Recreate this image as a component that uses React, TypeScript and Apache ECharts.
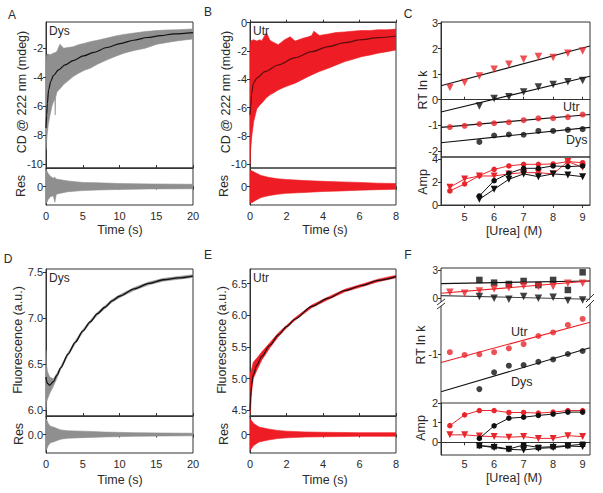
import React, { useEffect, useRef } from "react";
import * as echarts from "echarts";

// ---------- Data ----------
// Panel A (CD, Dys): noisy trace envelope + fit
const aT = [0, 0.05, 0.15, 0.3, 0.55, 0.8, 1.0, 1.2, 1.25, 1.3, 1.5, 1.9, 2.4, 3.0, 3.7, 4.5, 5.3, 6.0, 7.0, 8.3, 9.5, 10.6, 12.0, 13.5, 15.1, 16.5, 18.0, 20];
const aHi = [-3.0, -2.6, -2.4, -2.4, -2.45, -2.4, -2.35, -2.3, -2.3, -2.3, -2.2, -1.72, -2.0, -1.95, -1.9, -1.75, -1.65, -1.55, -1.45, -1.3, -1.15, -1.05, -0.95, -0.85, -0.78, -0.74, -0.72, -0.67];
const aLo = [-9.0, -8.6, -8.0, -7.3, -6.6, -6.0, -5.7, -5.5, -6.6, -5.4, -5.0, -4.8, -4.5, -4.25, -3.95, -3.7, -3.5, -3.38, -3.1, -2.8, -2.55, -2.34, -2.15, -2.0, -1.72, -1.6, -1.48, -1.36];
const aFitT = [0, 0.09, 0.18, 0.36, 0.64, 1.0, 1.7, 2.6, 3.7, 5.1, 6.5, 8.3, 10.1, 11.9, 13.8, 15.6, 17.4, 20];
const aFit = [-7.5, -6.6, -5.8, -4.87, -4.3, -3.89, -3.49, -3.15, -2.85, -2.53, -2.28, -1.95, -1.68, -1.45, -1.26, -1.13, -1.01, -0.92];
const aResT = [0, 0.1, 0.3, 0.6, 1.0, 1.2, 1.4, 2, 3, 5, 7, 10, 14, 20];
const aResHi = [0.92, 0.85, 0.7, 0.55, 0.45, 0.5, 0.4, 0.36, 0.3, 0.22, 0.2, 0.16, 0.14, 0.12];
const aResLo = [-0.9, -0.88, -0.7, -0.55, -0.5, -0.85, -0.42, -0.36, -0.28, -0.22, -0.19, -0.16, -0.13, -0.12];

// Panel B (CD, Utr)
const bT = [0, 0.04, 0.1, 0.2, 0.37, 0.55, 0.64, 0.9, 1.1, 1.3, 1.55, 1.9, 2.2, 2.47, 2.9, 3.2, 3.38, 3.5, 3.8, 4.29, 4.7, 5.2, 5.6, 6.1, 6.6, 7.0, 7.5, 8];
const bHi = [-1.8, -1.3, -1.25, -1.2, -1.3, -1.2, -1.3, -0.7, -1.25, -1.4, -1.55, -1.2, -1.0, -1.3, -1.1, -1.0, -0.9, -0.6, -0.9, -0.8, -0.7, -0.65, -0.6, -0.55, -0.55, -0.5, -0.5, -0.45];
const bLo = [-10.0, -8.9, -8.0, -7.0, -6.1, -5.8, -5.7, -5.3, -5.1, -4.95, -4.75, -4.55, -4.4, -4.28, -4.0, -3.8, -3.69, -3.62, -3.45, -3.22, -3.0, -2.75, -2.6, -2.4, -2.28, -2.16, -2.05, -1.93];
const bFitT = [0, 0.04, 0.09, 0.18, 0.37, 0.82, 1.55, 2.47, 3.38, 4.29, 5.2, 6.12, 7.03, 8];
const bFit = [-6.5, -5.9, -5.0, -4.28, -3.92, -3.46, -2.99, -2.47, -2.05, -1.69, -1.41, -1.2, -1.06, -0.94];
const bResT = [0, 0.1, 0.3, 0.6, 1, 1.5, 2, 3, 4, 5, 6, 7, 8];
const bResHi = [0.85, 0.85, 0.75, 0.6, 0.5, 0.42, 0.38, 0.32, 0.28, 0.25, 0.22, 0.18, 0.16];
const bResLo = [-0.88, -0.88, -0.75, -0.6, -0.5, -0.42, -0.37, -0.32, -0.27, -0.24, -0.2, -0.17, -0.15];

// Panel D (Fluorescence, Dys)
const dT = [0, 0.05, 0.2, 0.5, 1.0, 1.5, 2, 3, 4, 5, 6, 7, 8, 9, 10, 12, 14, 16, 18, 20];
const dFit = [6.36, 6.32, 6.29, 6.27, 6.31, 6.38, 6.46, 6.61, 6.74, 6.86, 6.96, 7.05, 7.12, 7.19, 7.24, 7.32, 7.38, 7.42, 7.44, 7.46];
const dHi = [6.65, 6.5, 6.42, 6.36, 6.34, 6.4, 6.475, 6.625, 6.755, 6.875, 6.975, 7.065, 7.135, 7.205, 7.255, 7.335, 7.395, 7.435, 7.455, 7.475];
const dLo = [6.0, 6.08, 6.12, 6.18, 6.26, 6.35, 6.445, 6.595, 6.725, 6.845, 6.945, 7.035, 7.105, 7.175, 7.225, 7.305, 7.365, 7.405, 7.425, 7.445];
const dResT = [0, 0.1, 0.3, 0.6, 1, 2, 3, 5, 8, 12, 16, 20];
const dResHi = [0.85, 0.8, 0.6, 0.45, 0.4, 0.25, 0.2, 0.18, 0.13, 0.1, 0.08, 0.07];
const dResLo = [-0.85, -0.8, -0.6, -0.45, -0.4, -0.25, -0.2, -0.17, -0.13, -0.1, -0.08, -0.07];

// Panel E (Fluorescence, Utr)
const eT = [0, 0.03, 0.09, 0.18, 0.37, 0.64, 1.1, 1.55, 2.0, 2.47, 3.38, 4.29, 5.2, 6.12, 7.03, 8];
const eFit = [4.5, 4.7, 4.9, 5.06, 5.21, 5.35, 5.53, 5.69, 5.82, 5.94, 6.14, 6.27, 6.39, 6.47, 6.55, 6.61];
const eHi = [5.1, 5.1, 5.15, 5.26, 5.32, 5.42, 5.57, 5.72, 5.84, 5.96, 6.16, 6.29, 6.41, 6.49, 6.57, 6.63];
const eLo = [4.45, 4.5, 4.8, 5.0, 5.13, 5.29, 5.49, 5.66, 5.8, 5.92, 6.12, 6.25, 6.37, 6.45, 6.53, 6.59];
const eResT = [0, 0.05, 0.2, 0.5, 1, 1.5, 2, 3, 4, 6, 8];
const eResHi = [0.85, 0.8, 0.6, 0.4, 0.3, 0.22, 0.18, 0.14, 0.12, 0.1, 0.1];
const eResLo = [-0.85, -0.8, -0.6, -0.4, -0.3, -0.22, -0.18, -0.14, -0.12, -0.1, -0.1];

// Panels C / F (urea dependence)
const ureaAll = [4.5, 5, 5.5, 6, 6.5, 7, 7.5, 8, 8.5, 9];
const ureaHi = [5.5, 6, 6.5, 7, 7.5, 8, 8.5, 9];
const fitX = [4.2, 9.25];

const cRedTri = [0.48, 0.67, 0.93, 1.19, 1.39, 1.58, 1.69, 1.65, 1.82, 1.91];
const cBlkTri = [-0.25, 0.05, 0.12, 0.3, 0.5, 0.6, 0.7, 0.75];
const cRedCirc = [-1.07, -1.02, -0.95, -0.92, -0.88, -0.8, -0.73, -0.72, -0.68, -0.58];
const cBlkCirc = [-1.65, -1.4, -1.36, -1.37, -1.22, -1.22, -1.18, -1.15];
const cFitRedTri = [0.55, 2.1];
const cFitBlkTri = [-0.48, 0.92];
const cFitRedCirc = [-1.08, -0.58];
const cFitBlkCirc = [-1.68, -1.08];
const cAmpRedCirc = [1.23, 1.84, 2.57, 3.12, 3.42, 3.56, 3.56, 3.59, 3.8, 3.7];
const cAmpRedTri = [1.55, 2.28, 2.54, 2.54, 2.72, 2.83, 2.83, 2.72, 3.8, 3.3];
const cAmpBlkCirc = [0.79, 2.13, 2.77, 3.21, 3.21, 3.42, 3.36, 3.42];
const cAmpBlkTri = [0.5, 1.37, 2.25, 2.72, 2.48, 2.72, 2.63, 2.48];

const fBlkSq = [1.95, 1.66, 1.52, 1.84, 1.41, 1.95, 0.88, 2.76];
const fRedTri = [0.64, 0.53, 0.78, 0.99, 1.13, 1.31, 1.24, 1.24, 1.6, 1.6];
const fBlkTri = [0.18, 0.0, -0.1, 0.18, 0.0, 0.1, -0.25, -0.18];
const fFitBlkSq = [1.56, 1.84];
const fFitRedTri = [0.53, 1.84];
const fFitBlkTri = [0.28, -0.1];
const fRedCirc = [-0.94, -1.03, -1.01, -0.94, -0.81, -0.67, -0.4, -0.28, -0.03, 0.17];
const fBlkCirc = [-2.17, -1.61, -1.39, -1.37, -1.26, -1.18, -1.0, -0.9];
const fFitRedCirc = [-1.28, 0.06];
const fFitBlkCirc = [-2.26, -0.79];
const fAmpRedCirc = [0.85, 1.4, 1.62, 1.62, 1.52, 1.52, 1.49, 1.54, 1.62, 1.62];
const fAmpRedTri = [0.38, 0.38, 0.32, 0.29, 0.26, 0.29, 0.2, 0.2, 0.34, 0.29];
const fAmpBlkCirc = [0.2, 0.84, 1.23, 1.28, 1.37, 1.44, 1.54, 1.54];
const fAmpBlkSq = [-0.17, -0.22, -0.34, -0.14, -0.26, -0.22, -0.17, -0.1];
const fAmpBlkTri = [-0.17, -0.27, -0.36, -0.39, -0.31, -0.27, -0.19, -0.22];

const timeTicks20 = [0, 5, 10, 15, 20];
const timeTicks8 = [0, 2, 4, 6, 8];
const ureaTicks = [5, 6, 7, 8, 9];

// ---------- styling ----------
const GREY = "#8f8f8f";
const RED = "#ee1c24";
const MRED = "#e8262c";
const BLK = "#111111";
const AXC = "#333333";
const TXC = "#2a2a2a";
const FONT = "Liberation Sans, Arial, sans-serif";

const grids = [
  { left: 46, top: 22, width: 147, height: 146, show: true }, // 0 A main
  { left: 46, top: 168, width: 147, height: 37, show: true }, // 1 A res
  { left: 250, top: 22, width: 146, height: 146, show: true }, // 2 B main
  { left: 250, top: 168, width: 146, height: 37, show: true }, // 3 B res
  { left: 441, top: 22, width: 149, height: 135, show: true }, // 4 C top
  { left: 441, top: 157, width: 149, height: 48, show: true }, // 5 C amp
  { left: 46, top: 269, width: 147, height: 147, show: true }, // 6 D main
  { left: 46, top: 416, width: 147, height: 37, show: true }, // 7 D res
  { left: 250, top: 269, width: 146, height: 147, show: true }, // 8 E main
  { left: 250, top: 416, width: 146, height: 37, show: true }, // 9 E res
  { left: 441, top: 268, width: 149, height: 36, show: false }, // 10 F top
  { left: 441, top: 304, width: 149, height: 99, show: false }, // 11 F mid
  { left: 441, top: 403, width: 149, height: 52, show: true }, // 12 F amp
].map((g) => ({ ...g, borderColor: AXC, borderWidth: 1, backgroundColor: "transparent" }));

function xAx(gi: number, min: number, max: number, ticks: number[], mode: "label" | "inner" | "none", margin = 5) {
  return {
    type: "value",
    gridIndex: gi,
    min,
    max,
    show: mode !== "none",
    splitLine: { show: false },
    axisLine: { show: true, lineStyle: { color: AXC, width: 1 } },
    axisTick: {
      show: true,
      inside: mode === "inner",
      length: 3,
      customValues: ticks,
      lineStyle: { color: AXC },
    },
    axisLabel: {
      show: mode === "label",
      customValues: ticks,
      margin,
      fontSize: 11,
      fontWeight: "normal",
      color: TXC,
      fontFamily: FONT,
      hideOverlap: false,
      showMinLabel: true,
      showMaxLabel: true,
    },
  };
}

function yAx(gi: number, min: number, max: number, ticks: number[], fmt?: (v: number) => string, line = true, size = 11) {
  return {
    type: "value",
    gridIndex: gi,
    min,
    max,
    splitLine: { show: false },
    axisLine: { show: line, lineStyle: { color: AXC, width: 1 } },
    axisTick: { show: true, length: 3, customValues: ticks, lineStyle: { color: AXC } },
    axisLabel: {
      show: true,
      customValues: ticks,
      margin: 3,
      fontSize: size,
      fontWeight: "normal",
      color: TXC,
      fontFamily: FONT,
      hideOverlap: false,
      showMinLabel: true,
      showMaxLabel: true,
      formatter: fmt ? (v: number) => fmt(v) : (v: number) => String(v),
    },
  };
}

const f1 = (v: number) => v.toFixed(1);

const xAxes = [
  xAx(0, 0, 20, timeTicks20, "inner"),
  xAx(1, 0, 20, timeTicks20, "label"),
  xAx(2, 0, 8, timeTicks8, "inner"),
  xAx(3, 0, 8, timeTicks8, "label"),
  xAx(4, 4.2, 9.25, ureaTicks, "inner"),
  xAx(5, 4.2, 9.25, ureaTicks, "label", 6),
  xAx(6, 0, 20, timeTicks20, "inner"),
  xAx(7, 0, 20, timeTicks20, "label"),
  xAx(8, 0, 8, timeTicks8, "inner"),
  xAx(9, 0, 8, timeTicks8, "label"),
  xAx(10, 4.2, 9.25, ureaTicks, "none"),
  xAx(11, 4.2, 9.25, ureaTicks, "none"),
  xAx(12, 4.2, 9.25, ureaTicks, "label", 3),
];

const yAxes = [
  yAx(0, -10.26, -0.19, [-10, -8, -6, -4, -2]),
  yAx(1, -1, 1, [0]),
  yAx(2, -10.27, 0.05, [-10, -8, -6, -4, -2, 0]),
  yAx(3, -1, 1, [0]),
  yAx(4, -2.24, 3.04, [-2, -1, 0, 1, 2, 3]),
  yAx(5, 0, 4.2, [0, 2, 4]),
  yAx(6, 5.935, 7.537, [6.0, 6.5, 7.0, 7.5], f1),
  yAx(7, -1, 1, [0], f1),
  yAx(8, 4.41, 6.73, [4.5, 5.0, 5.5, 6.0, 6.5], f1),
  yAx(9, -1, 1, [0]),
  yAx(10, -0.61, 3.22, [0, 1, 2, 3], undefined, false, 10),
  yAx(11, -2.633, 0.667, [-1], undefined, false),
  yAx(12, -0.648, 2.005, [0, 1, 2]),
];

function band(ai: number, ts: number[], lo: number[], hi: number[], color: string) {
  return {
    type: "custom",
    xAxisIndex: ai,
    yAxisIndex: ai,
    clip: true,
    silent: true,
    z: 2,
    data: ts.map((t, i) => [t, lo[i], hi[i]]),
    encode: { x: 0, y: [1, 2] },
    renderItem: (params: any, api: any) => {
      if (params.dataIndex !== 0) return { type: "group", children: [] };
      const pts: number[][] = [];
      for (let i = 0; i < ts.length; i++) pts.push(api.coord([ts[i], hi[i]]));
      for (let i = ts.length - 1; i >= 0; i--) pts.push(api.coord([ts[i], lo[i]]));
      return {
        type: "polygon",
        shape: { points: pts },
        style: { fill: color, stroke: color, lineWidth: 0.6 },
      };
    },
  };
}

function curve(ai: number, xs: number[], ys: number[], color: string, width = 1.2, smooth: number | boolean = 0.3) {
  return {
    type: "line",
    xAxisIndex: ai,
    yAxisIndex: ai,
    data: xs.map((x, i) => [x, ys[i]]),
    showSymbol: false,
    symbol: "none",
    smooth,
    smoothMonotone: "x",
    lineStyle: { color, width },
    silent: true,
    z: 5,
  };
}

function marks(ai: number, xs: number[], ys: number[], color: string, symbol: string, connect: boolean, size = 6) {
  const rotate = symbol === "triangle" ? 180 : 0;
  return {
    type: connect ? "line" : "scatter",
    xAxisIndex: ai,
    yAxisIndex: ai,
    data: xs.map((x, i) => [x, ys[i]]),
    symbol,
    symbolRotate: rotate,
    symbolSize: symbol === "triangle" ? size + 1.5 : size,
    showSymbol: true,
    showAllSymbol: true,
    itemStyle: { color },
    lineStyle: { color, width: 1 },
    silent: true,
    z: 6,
  };
}

const series: any[] = [
  // A
  band(0, aT, aLo, aHi, GREY),
  curve(0, aFitT, aFit, BLK),
  band(1, aResT, aResLo, aResHi, GREY),
  // B
  band(2, bT, bLo, bHi, RED),
  curve(2, bFitT, bFit, "#5a0d0d"),
  band(3, bResT, bResLo, bResHi, RED),
  // C top
  marks(4, ureaAll, cRedTri, MRED, "triangle", false),
  marks(4, ureaHi, cBlkTri, BLK, "triangle", false),
  marks(4, ureaAll, cRedCirc, MRED, "circle", false),
  marks(4, ureaHi, cBlkCirc, BLK, "circle", false),
  curve(4, fitX, cFitRedTri, BLK, 1.1, false),
  curve(4, fitX, cFitBlkTri, BLK, 1.1, false),
  curve(4, fitX, cFitRedCirc, BLK, 1.1, false),
  curve(4, fitX, cFitBlkCirc, BLK, 1.1, false),
  // C amp
  marks(5, ureaAll, cAmpRedCirc, MRED, "circle", true, 5.5),
  marks(5, ureaAll, cAmpRedTri, MRED, "triangle", true, 5.5),
  marks(5, ureaHi, cAmpBlkCirc, BLK, "circle", true, 5.5),
  marks(5, ureaHi, cAmpBlkTri, BLK, "triangle", true, 5.5),
  // D
  band(6, dT, dLo, dHi, GREY),
  curve(6, dT, dFit, BLK, 1.3),
  band(7, dResT, dResLo, dResHi, GREY),
  // E
  band(8, eT, eLo, eHi, RED),
  curve(8, eT, eFit, BLK, 1.1),
  band(9, eResT, eResLo, eResHi, RED),
  // F top
  curve(10, fitX, fFitBlkSq, BLK, 1.1, false),
  curve(10, fitX, fFitRedTri, RED, 1.1, false),
  curve(10, fitX, fFitBlkTri, "#444", 1.1, false),
  marks(10, ureaHi, fBlkSq, BLK, "rect", false, 6.5),
  marks(10, ureaAll, fRedTri, MRED, "triangle", false),
  marks(10, ureaHi, fBlkTri, BLK, "triangle", false),
  // F mid
  curve(11, fitX, fFitRedCirc, RED, 1.1, false),
  curve(11, fitX, fFitBlkCirc, BLK, 1.1, false),
  marks(11, ureaAll, fRedCirc, MRED, "circle", false),
  marks(11, ureaHi, fBlkCirc, BLK, "circle", false),
  // F amp
  marks(12, ureaAll, fAmpRedCirc, MRED, "circle", true, 5.5),
  marks(12, ureaAll, fAmpRedTri, MRED, "triangle", true, 5.5),
  marks(12, ureaHi, fAmpBlkCirc, BLK, "circle", true, 5.5),
  marks(12, ureaHi, fAmpBlkSq, BLK, "rect", true, 5.5),
  marks(12, ureaHi, fAmpBlkTri, BLK, "triangle", true, 5.5),
];

function txt(text: string, x: number, y: number, size = 12, rot = false, align = "center") {
  return {
    type: "text",
    x,
    y,
    rotation: rot ? Math.PI / 2 : 0,
    silent: true,
    z: 20,
    style: {
      text,
      fill: TXC,
      fontSize: size,
      fontWeight: "normal",
      fontFamily: FONT,
      textAlign: align,
      textVerticalAlign: "middle",
    },
  };
}

function seg(x1: number, y1: number, x2: number, y2: number) {
  return { type: "line", silent: true, z: 20, shape: { x1, y1, x2, y2 }, style: { stroke: AXC, lineWidth: 1 } };
}

const graphics: any[] = [
  // panel letters
  txt("A", 12, 15, 12),
  txt("B", 208, 12, 12),
  txt("C", 408, 14, 12),
  txt("D", 8, 259, 12),
  txt("E", 208, 255, 12),
  txt("F", 408, 255, 12),
  // in-plot labels
  txt("Dys", 49, 31, 12, false, "left"),
  txt("Utr", 253, 31, 12, false, "left"),
  txt("Dys", 49, 278, 12, false, "left"),
  txt("Utr", 253, 278, 12, false, "left"),
  txt("Utr", 563, 107, 12.5, false, "left"),
  txt("Dys", 566, 140, 12.5, false, "left"),
  txt("Utr", 511, 332, 12.5, false, "left"),
  txt("Dys", 511, 382, 12.5, false, "left"),
  // axis titles
  txt("CD @ 222 nm (mdeg)", 22, 92, 12.5, true),
  txt("Res", 21, 186, 12.5, true),
  txt("Time (s)", 120, 230, 12.5),
  txt("CD @ 222 nm (mdeg)", 226, 92, 12.5, true),
  txt("Res", 224, 186, 12.5, true),
  txt("Time (s)", 325, 230, 12.5),
  txt("RT ln k", 423, 90, 12.5, true),
  txt("Amp", 423, 182, 12.5, true),
  txt("[Urea] (M)", 514, 231, 12.5),
  txt("Fluorescence (a.u.)", 18, 340, 12.5, true),
  txt("Res", 19, 434, 12.5, true),
  txt("Time (s)", 120, 480, 12.5),
  txt("Fluorescence (a.u.)", 222, 340, 12.5, true),
  txt("Res", 224, 434, 12.5, true),
  txt("Time (s)", 325, 480, 12.5),
  txt("RT ln k", 421, 345, 12.5, true),
  txt("Amp", 421, 428, 12.5, true),
  txt("[Urea] (M)", 514, 478, 12.5),
  // F frame with axis break
  seg(441, 268, 590, 268),
  seg(441, 268, 441, 302),
  seg(441, 306, 441, 403),
  seg(590, 268, 590, 298),
  seg(590, 304, 590, 403),
  seg(437, 305, 445, 299),
  seg(437, 309, 445, 303),
  seg(586, 302, 594, 294),
  seg(586, 308, 594, 300),
];

export default function App() {
  const ref = useRef<HTMLDivElement>(null);
  useEffect(() => {
    if (!ref.current) return;
    const chart = echarts.init(ref.current, null, { renderer: "svg" });
    chart.setOption({
      animation: false,
      backgroundColor: "#ffffff",
      textStyle: { fontFamily: FONT, fontWeight: "normal" },
      grid: grids,
      xAxis: xAxes,
      yAxis: yAxes,
      series,
      graphic: graphics,
    });
    return () => chart.dispose();
  }, []);
  return (
    <div
      ref={ref}
      style={{ position: "absolute", left: 0, top: 0, width: 603, height: 493, background: "#fff" }}
    />
  );
}
